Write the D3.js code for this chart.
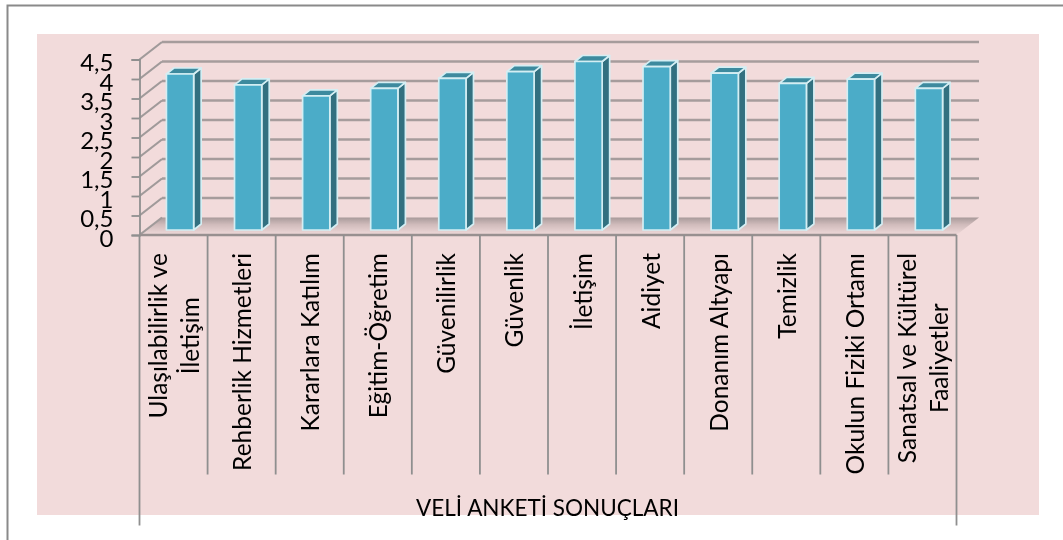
<!DOCTYPE html>
<html>
<head>
<meta charset="utf-8">
<script src="https://cdn.jsdelivr.net/npm/d3@7"></script>
<style>
  html, body { margin: 0; padding: 0; background: #fff; overflow: hidden; }
  text { font-family: Lato, "Open Sans", sans-serif; fill: #000; }
</style>
</head>
<body>
<div id="chart"></div>
<script>
// Data
const categories = [
  ['Ulaşılabilirlik ve', 'İletişim'],
  ['Rehberlik Hizmetleri'],
  ['Kararlara Katılım'],
  ['Eğitim-Öğretim'],
  ['Güvenilirlik'],
  ['Güvenlik'],
  ['İletişim'],
  ['Aidiyet'],
  ['Donanım Altyapı'],
  ['Temizlik'],
  ['Okulun Fiziki Ortamı'],
  ['Sanatsal ve Kültürel', 'Faaliyetler']
]
const values = [4.0, 3.72, 3.44, 3.63, 3.89, 4.06, 4.32, 4.19, 4.02, 3.76, 3.87, 3.63]
const yTicks = [0, 0.5, 1, 1.5, 2, 2.5, 3, 3.5, 4, 4.5]
const groupLabel = 'VELİ ANKETİ SONUÇLARI'

// Dimensions
const width = 1063
const height = 540
const depthX = 22.5   // how far the back wall is shifted
const depthY = -17.5

const svg = d3.select('#chart')
  .append('svg')
  .attr('width', width)
  .attr('height', height)
  .style('display', 'block')

const defs = svg.append('defs')
const floorGrad = defs.append('linearGradient')
  .attr('id', 'floorGrad')
  .attr('x1', 0).attr('x2', 0).attr('y1', 0).attr('y2', 1)
floorGrad.append('stop').attr('offset', '0%').attr('stop-color', '#a89a9a')
floorGrad.append('stop').attr('offset', '40%').attr('stop-color', '#d0bbbb')
floorGrad.append('stop').attr('offset', '100%').attr('stop-color', '#f0dada')

defs.append('filter').attr('id', 'soft')
  .append('feGaussianBlur').attr('stdDeviation', 0.45)

// Scales
const xScale = d3.scaleBand()
  .domain(d3.range(categories.length))
  .range([139.5, 956.5])

const yScale = d3.scaleLinear()
  .domain([0, 4.5])
  .range([235, 59.5])

const barX = d3.scaleBand()
  .domain(d3.range(categories.length))
  .range([139.5, 956.5])
  .paddingInner(0.6)
  .paddingOuter(0.3)

// Page frame and pink plot area
svg.append('path')
  .attr('d', `M7.5,${height} V5.5 H${width}`)
  .attr('fill', 'none')
  .attr('stroke', '#8a8a8a')
  .attr('stroke-width', 2)

svg.append('rect')
  .attr('x', 37).attr('y', 34)
  .attr('width', 1002).attr('height', 481)
  .attr('fill', '#f2dbdb')

const ctr = svg.append('g').attr('filter', 'url(#soft)')

// Floor
const x0 = xScale.range()[0]
const x1 = xScale.range()[1]
const y0 = yScale(0)

ctr.append('path')
  .attr('d', `M${x0},${y0} L${x0 + depthX},${y0 + depthY} H${x1 + depthX} L${x1},${y0} Z`)
  .attr('fill', 'url(#floorGrad)')

// Back wall gridlines and side wall diagonals
const gridTicks = yTicks.filter(d => d > 0)

ctr.selectAll('.grid')
  .data(gridTicks)
  .join('line')
  .attr('x1', x0 + depthX)
  .attr('x2', x1 + depthX)
  .attr('y1', d => yScale(d) + depthY)
  .attr('y2', d => yScale(d) + depthY)
  .attr('stroke', '#a69c9c')
  .attr('stroke-width', 2.4)

ctr.selectAll('.diag')
  .data(yTicks)
  .join('line')
  .attr('x1', x0)
  .attr('x2', x0 + depthX)
  .attr('y1', d => yScale(d))
  .attr('y2', d => yScale(d) + depthY)
  .attr('stroke', '#a09a9a')
  .attr('stroke-width', 2.2)

// Bars
const barDx = 6.5
const barDy = -5
const sideX = 7.5
const sideY = -6

const bars = ctr.selectAll('.bar')
  .data(values)
  .join('g')
  .attr('class', 'bar')
  .attr('stroke', '#d4eef3')
  .attr('stroke-width', 1.7)
  .attr('stroke-linejoin', 'round')

const barLeft = (d, i) => barX(i) + barDx
const barW = barX.bandwidth()

bars.append('path')
  .attr('fill', '#316f80')
  .attr('d', (d, i) => {
    const l = barLeft(d, i) + barW
    const t = yScale(d) + barDy
    const b = y0 + barDy
    return `M${l},${t} l${sideX},${sideY} V${b + sideY} L${l},${b} Z`
  })

bars.append('path')
  .attr('fill', '#3d8a9e')
  .attr('d', (d, i) => {
    const l = barLeft(d, i)
    const t = yScale(d) + barDy
    return `M${l},${t} l${sideX},${sideY} h${barW} l${-sideX},${-sideY} Z`
  })

bars.append('rect')
  .attr('x', barLeft)
  .attr('y', d => yScale(d) + barDy)
  .attr('width', barW)
  .attr('height', d => y0 - yScale(d))
  .attr('fill', '#4bacc8')

// Axes
const yAxis = d3.axisLeft(yScale)
  .tickValues(yTicks)
  .tickSize(8)
  .tickPadding(18)
  .tickFormat(d => String(d).replace('.', ','))

const yAxisGroup = ctr.append('g')
  .attr('transform', `translate(${x0},0)`)
  .call(yAxis)

yAxisGroup.selectAll('path, line').attr('stroke', '#8f8f8f').attr('stroke-width', 1.8)
yAxisGroup.selectAll('text')
  .attr('dy', '0.46em')
  .style('font-size', '24px')
  .style('font-family', 'Lato, "Open Sans", sans-serif')
  .attr('fill', '#000')

// Category axis, tick lines run down between the labels
const boundaries = d3.range(categories.length + 1).map(i => x0 + xScale.step() * i)

ctr.append('line')
  .attr('x1', x0).attr('x2', x1)
  .attr('y1', y0).attr('y2', y0)
  .attr('stroke', '#989090')
  .attr('stroke-width', 2.6)

ctr.selectAll('.sep')
  .data(boundaries)
  .join('line')
  .attr('x1', d => d)
  .attr('x2', d => d)
  .attr('y1', y0)
  .attr('y2', (d, i) => (i === 0 || i === categories.length) ? 525.5 : 474.5)
  .attr('stroke', '#8f8f8f')
  .attr('stroke-width', 1.8)

// Rotated category labels, block pinned to the top, lines centred on each other
const labelTop = 253
const lineGap = 32.5

const labels = ctr.selectAll('.cat')
  .data(categories)
  .join('g')
  .attr('class', 'cat')

labels.each(function (lines, i) {
  const g = d3.select(this)
  const cx = xScale(i) + xScale.bandwidth() / 2
  const texts = lines.map(line => g.append('text')
    .style('font-size', '24.5px')
    .attr('text-anchor', 'middle')
    .attr('dominant-baseline', 'central')
    .text(line))
  const longest = d3.max(texts, t => t.node().getComputedTextLength())
  texts.forEach((t, j) => {
    const tx = cx + (j - (lines.length - 1) / 2) * lineGap
    t.attr('transform', `translate(${tx},${labelTop + longest / 2}) rotate(-90)`)
  })
})

ctr.append('text')
  .attr('x', 547.5)
  .attr('y', 516)
  .attr('text-anchor', 'middle')
  .style('font-size', '22.5px')
  .text(groupLabel)
</script>
</body>
</html>
